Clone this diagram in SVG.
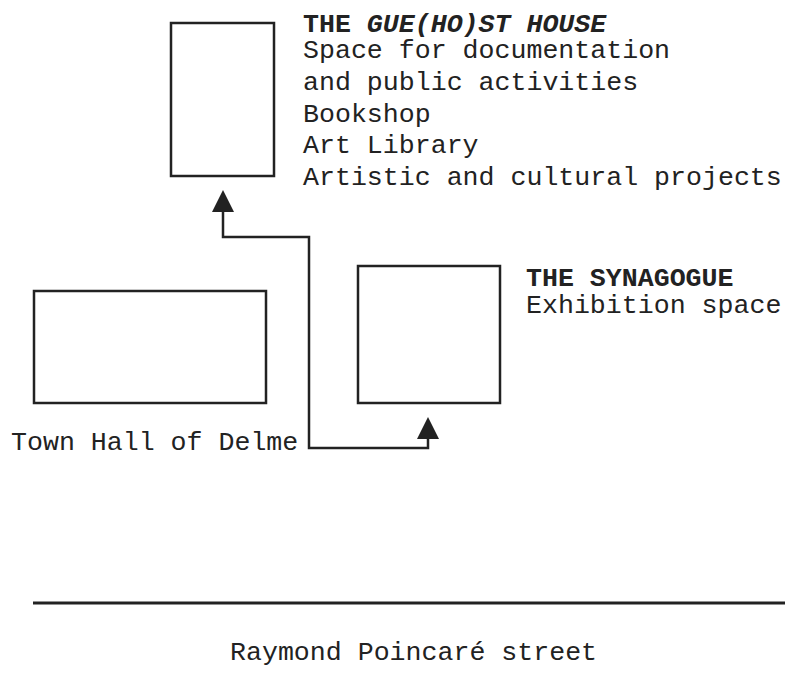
<svg xmlns="http://www.w3.org/2000/svg" width="785" height="686" viewBox="0 0 785 686">
<style>
.b{fill:none;stroke:#222;stroke-width:2.5}
.c{fill:none;stroke:#222;stroke-width:2.5}
.t{font-family:"Liberation Mono","DejaVu Sans Mono",monospace;font-size:26.6px;fill:#222}
.h{font-family:"Liberation Mono","DejaVu Sans Mono",monospace;font-size:26.6px;font-weight:bold;fill:#222}
</style>
<rect width="785" height="686" fill="#fff"/>
<g id="ghost-house">
<rect class="b" x="171" y="23" width="103" height="153"/>
<text class="h" x="303" y="32">THE <tspan font-style="italic">GUE(HO)ST HOUSE</tspan></text>
<text class="t" x="303" y="58">Space for documentation</text>
<text class="t" x="303" y="90">and public activities</text>
<text class="t" x="303" y="122">Bookshop</text>
<text class="t" x="303" y="153">Art Library</text>
<text class="t" x="303" y="185">Artistic and cultural projects</text>
</g>
<g id="synagogue">
<rect class="b" x="358" y="266" width="142" height="137"/>
<text class="h" x="526" y="286">THE SYNAGOGUE</text>
<text class="t" x="526" y="313">Exhibition space</text>
</g>
<g id="town-hall">
<rect class="b" x="34" y="291" width="232" height="112"/>
<text class="t" x="11" y="450">Town Hall of Delme</text>
</g>
<g id="street">
<line x1="33" y1="603" x2="785" y2="603" stroke="#222" stroke-width="3"/>
<text class="t" x="230" y="660">Raymond Poincaré street</text>
</g>
<g id="connectors">
<polyline class="c" points="223,210 223,237 309,237 309,448 428,448 428,437"/>
<polygon points="223,190 212,212 234,212" fill="#222"/>
<polygon points="428,417 417,439 439,439" fill="#222"/>
</g>
</svg>
